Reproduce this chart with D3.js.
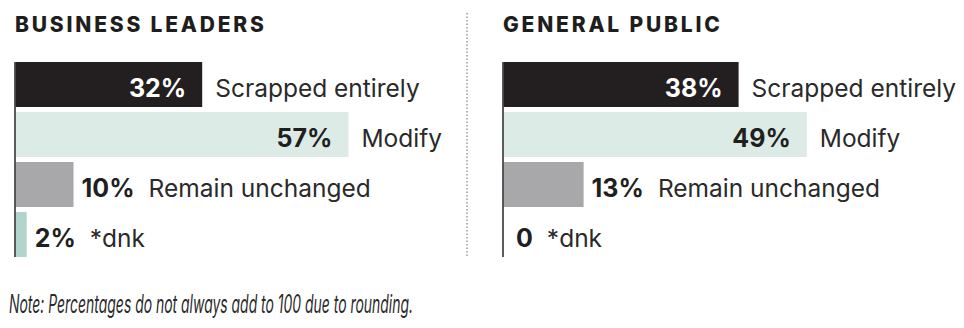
<!DOCTYPE html>
<html>
<head>
<meta charset="utf-8">
<script src="https://cdn.jsdelivr.net/npm/d3@7"></script>
<style>
  body { margin: 0; background: #fff; }
  svg { display: block; font-family: Inter, "Noto Sans", sans-serif; }
</style>
</head>
<body>
<div id="Area"></div>
<script>
var width = 964, height = 328;

// data
var categories = ["Scrapped entirely", "Modify", "Remain unchanged", "*dnk"];
var leaders = [32, 57, 10, 2];
var publicVals = [38, 49, 13, 0];
var labels = ["32%", "57%", "10%", "2%"];
var labelsPublic = ["38%", "49%", "13%", "0"];
var titles = ["BUSINESS LEADERS", "GENERAL PUBLIC"];
var colors = ["#231f20", "#dcebe5", "#a8a8ab", "#b3d4cc"];
var note = "Note: Percentages do not always add to 100 due to rounding.";

var panels = [
  { title: titles[0], values: leaders, labels: labels, x0: 15, span: 585 },
  { title: titles[1], values: publicVals, labels: labelsPublic, x0: 503, span: 620 }
];

var svg = d3.select("#Area").append("svg")
  .attr("width", width)
  .attr("height", height);

var y = d3.scaleBand()
  .domain(categories)
  .range([62, 257])
  .paddingInner(0.1)
  .paddingOuter(0);

// dotted divider
svg.append("line")
  .attr("x1", 467).attr("x2", 467)
  .attr("y1", 13).attr("y2", 258)
  .attr("stroke", "#9a9a9a")
  .attr("stroke-width", 1.5)
  .attr("stroke-dasharray", "1.5,2");

panels.forEach(function (p) {
  var x = d3.scaleLinear().domain([0, 100]).range([p.x0, p.x0 + p.span]);
  var g = svg.append("g");

  g.append("text")
    .attr("x", p.x0)
    .attr("y", 32)
    .attr("font-size", 21)
    .attr("font-weight", 800)
    .attr("letter-spacing", "2.8px")
    .attr("fill", "#1e1e1e")
    .text(p.title);

  var rows = categories.map(function (c, i) {
    return { cat: c, v: p.values[i], label: p.labels[i], color: colors[i] };
  });

  g.selectAll("rect.bar")
    .data(rows)
    .enter().append("rect")
    .attr("class", "bar")
    .attr("x", x(0))
    .attr("y", function (d) { return y(d.cat); })
    .attr("width", function (d) { return x(d.v) - x(0); })
    .attr("height", y.bandwidth())
    .attr("fill", function (d) { return d.color; });

  // axis line
  g.append("line")
    .attr("x1", x(0)).attr("x2", x(0))
    .attr("y1", y.range()[0]).attr("y2", y.range()[1])
    .attr("stroke", "#4a4a4a")
    .attr("stroke-width", 1.8);

  rows.forEach(function (d) {
    var end = x(d.v);
    var base = y(d.cat) + 35;
    var inside = d.v > 20;
    var val = g.append("text")
      .attr("y", base)
      .attr("font-size", 25)
      .attr("font-weight", 700)
      .attr("fill", d.color == "#231f20" ? "#fff" : "#1f1f1f")
      .text(d.label);
    var catX;
    if (inside) {
      val.attr("x", end - 16).attr("text-anchor", "end");
      catX = end + 13;
    } else {
      val.attr("x", end + (d.v == 0 ? 13 : 8));
      catX = +val.attr("x") + val.node().getComputedTextLength() + 14;
    }
    g.append("text")
      .attr("x", catX)
      .attr("y", base)
      .attr("font-size", 24.5)
      .attr("fill", "#2a2a2a")
      .text(d.cat);
  });
});

svg.append("text")
  .attr("x", 9)
  .attr("y", 313)
  .attr("font-size", 25)
  .attr("font-style", "italic")
  .attr("fill", "#2a2a2a")
  .attr("textLength", 404)
  .attr("lengthAdjust", "spacingAndGlyphs")
  .text(note);
</script>
</body>
</html>
